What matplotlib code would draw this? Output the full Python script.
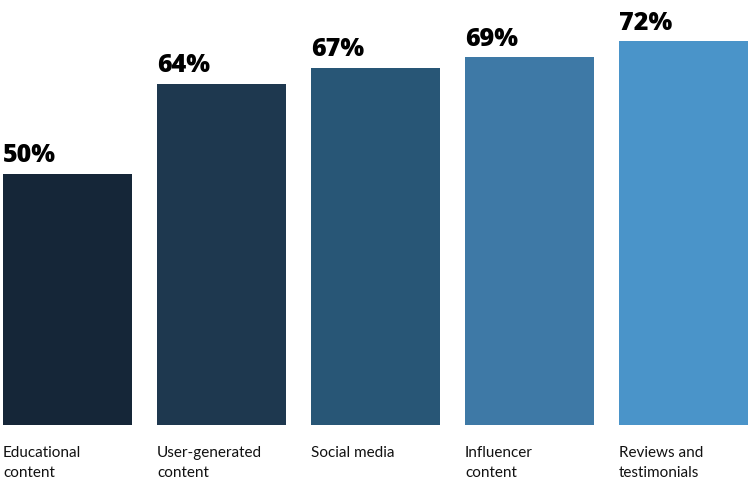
import matplotlib.pyplot as plt

categories = ["Educational\ncontent", "User-generated\ncontent", "Social media",
              "Influencer\ncontent", "Reviews and\ntestimonials"]
value_labels = ["50%", "64%", "67%", "69%", "72%"]
# bar heights as drawn in the picture (first bar is drawn a bit short)
heights = [47.1, 64, 67, 69, 72]
colors = ["#152638", "#1e384f", "#285676", "#3e79a6", "#4a94c9"]

width = 0.838

fig = plt.figure(figsize=(7.5, 5), dpi=100)
ax = fig.add_axes([3 / 750, 75 / 500, 745 / 750, 383.8 / 500])

x = range(len(categories))
ax.bar(x, heights, width=width, color=colors)

for i, (h, lab, cat) in enumerate(zip(heights, value_labels, categories)):
    ax.annotate(lab, (i - width / 2, h), xytext=(0, 4), textcoords="offset points",
                ha="left", va="bottom", fontsize=18, fontweight="heavy",
                family="Open Sans", color="black")
    ax.annotate(cat, (i - width / 2, 0), xytext=(0, -15), textcoords="offset points",
                ha="left", va="top", fontsize=11, family="Lato",
                color="#111111", linespacing=1.6,
                annotation_clip=False)

ax.set_xlim(-width / 2, len(categories) - 1 + width / 2)
ax.set_ylim(0, 72)
ax.axis("off")

fig.savefig("out.png", dpi=100)
